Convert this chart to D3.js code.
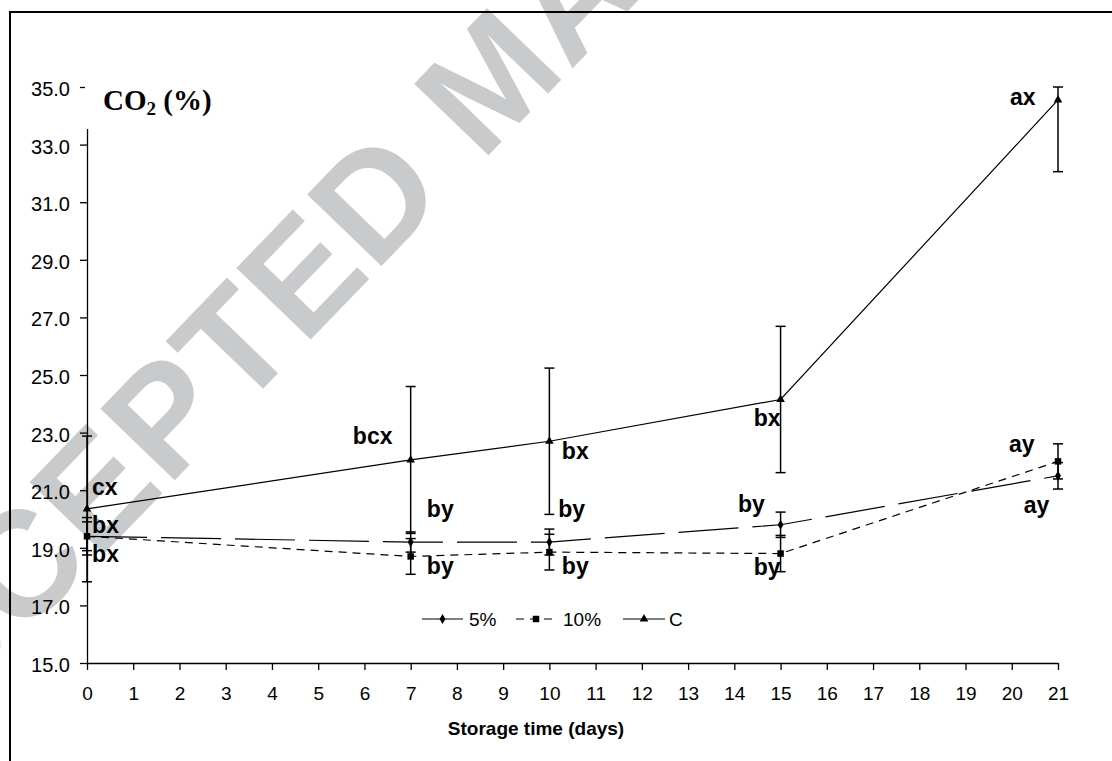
<!DOCTYPE html>
<html>
<head>
<meta charset="utf-8">
<script src="https://cdn.jsdelivr.net/npm/d3@7/dist/d3.min.js"></script>
<style>
  html, body { margin: 0; padding: 0; background: #fff; }
  svg { display: block; }
</style>
</head>
<body>
<svg id="chart" width="1112" height="761"></svg>
<script>
// ---- data ----
const days = [0, 7, 10, 15, 21];
const series5 = [19.4, 19.2, 19.2, 19.8, 21.5];
const series10 = [19.4, 18.7, 18.85, 18.8, 22.0];
const seriesC = [20.35, 22.05, 22.7, 24.15, 34.55];
const err5 = [0.65, 0.35, 0.45, 0.44, 0.46];
const err10 = [0.5, 0.62, 0.62, 0.63, 0.61];
const errC = [2.53, 2.55, 2.54, 2.54, 2.49];
const seriesNames = ["5%", "10%", "C"];
const xTicks = d3.range(0, 22, 1);
const yTicks = [15, 17, 19, 21, 23, 25, 27, 29, 31, 33, 35];
const yTitle = "CO";
const xTitle = "Storage time (days)";
// letters of significance: [text, day, value, anchor]
const letterLabels = [
  ["cx", 0.11, 20.83, "start"],
  ["bx", 0.11, 19.51, "start"],
  ["bx", 0.11, 18.51, "start"],
  ["bcx", 5.75, 22.62, "start"],
  ["by", 7.35, 20.07, "start"],
  ["by", 7.35, 18.09, "start"],
  ["bx", 10.27, 22.08, "start"],
  ["by", 10.19, 20.07, "start"],
  ["by", 10.27, 18.09, "start"],
  ["bx", 15.0, 23.23, "end"],
  ["by", 14.08, 20.24, "start"],
  ["by", 15.0, 18.06, "end"],
  ["ax", 19.96, 34.38, "start"],
  ["ay", 19.94, 22.33, "start"],
  ["ay", 20.26, 20.21, "start"]
];
const watermark = "ACCEPTED MANUSCRIPT";

// ---- layout ----
const svg = d3.select("#chart");
const W = 1112, H = 761;
const x = d3.scaleLinear().domain([0, 21]).range([87, 1058]);
const y = d3.scaleLinear().domain([15, 35]).range([663, 87]);

// watermark
svg.append("text")
  .attr("transform", "translate(-133,799) rotate(-46)")
  .attr("font-family", "Liberation Sans, Arial, sans-serif")
  .attr("font-weight", "bold")
  .attr("font-size", 150)
  .attr("letter-spacing", 2)
  .attr("fill", "#c9cacc")
  .text(watermark);

// frame
svg.append("path")
  .attr("d", `M10,${H} V12 H${W}`)
  .attr("fill", "none").attr("stroke", "#000").attr("stroke-width", 2);

// axes
const yAxis = d3.axisLeft(y).tickValues(yTicks).tickFormat(d3.format(".1f"))
  .tickSize(7).tickSizeOuter(0).tickPadding(10);
const gy = svg.append("g").attr("transform", "translate(87,0)").call(yAxis);
gy.selectAll("text").attr("font-family", "Liberation Sans, Arial, sans-serif")
  .attr("font-size", 20).attr("fill", "#000").attr("dy", "0.42em");
gy.selectAll("line,path").attr("stroke", "#000").attr("stroke-width", 1.3);

const xAxis = d3.axisBottom(x).tickValues(xTicks).tickFormat(d3.format("d"))
  .tickSize(7).tickSizeOuter(0).tickPadding(17);
const gx = svg.append("g").attr("transform", "translate(0,663)").call(xAxis);
gx.selectAll("text").attr("font-family", "Liberation Sans, Arial, sans-serif")
  .attr("font-size", 19).attr("fill", "#000");
gx.selectAll("line,path").attr("stroke", "#000").attr("stroke-width", 1.3);

svg.append("text")
  .attr("x", 536).attr("y", 735)
  .attr("text-anchor", "middle")
  .attr("font-family", "Liberation Sans, Arial, sans-serif")
  .attr("font-weight", "bold").attr("font-size", 19)
  .text(xTitle);

// y title with white background
svg.append("rect").attr("x", 85).attr("y", 62).attr("width", 145).attr("height", 67).attr("fill", "#fff");
const yt = svg.append("text")
  .attr("x", 103).attr("y", 110)
  .attr("font-family", "Liberation Serif, Times New Roman, serif")
  .attr("font-weight", "bold").attr("font-size", 29);
yt.append("tspan").text(yTitle);
yt.append("tspan").attr("font-size", 19).attr("dy", 5).text("2");
yt.append("tspan").attr("dy", -5).text(" (%)");

// series
const seriesData = [
  { name: seriesNames[0], vals: series5, errs: err5, dash: "60,14", marker: "diamond" },
  { name: seriesNames[1], vals: series10, errs: err10, dash: "8,6", marker: "square" },
  { name: seriesNames[2], vals: seriesC, errs: errC, dash: null, marker: "triangle" }
];

const line = d3.line().x(d => x(d[0])).y(d => y(d[1]));
const sym = {
  diamond: d3.symbol().type(d3.symbolDiamond).size(30),
  square: d3.symbol().type(d3.symbolSquare).size(42),
  triangle: d3.symbol().type(d3.symbolTriangle).size(32)
};

// error bars first
seriesData.forEach(s => {
  const g = svg.append("g");
  days.forEach((d, i) => {
    const lo = s.vals[i] - s.errs[i];
    const hi = Math.min(35, s.vals[i] + s.errs[i]);
    const cx = x(d);
    g.append("line").attr("x1", cx).attr("x2", cx).attr("y1", y(lo)).attr("y2", y(hi))
      .attr("stroke", "#000").attr("stroke-width", 1.5);
    [lo, hi].forEach(v => {
      g.append("line").attr("x1", cx - 5).attr("x2", cx + 5).attr("y1", y(v)).attr("y2", y(v))
        .attr("stroke", "#000").attr("stroke-width", 1.5);
    });
  });
});

seriesData.forEach(s => {
  const pts = days.map((d, i) => [d, s.vals[i]]);
  const p = svg.append("path").datum(pts).attr("d", line)
    .attr("fill", "none").attr("stroke", "#000").attr("stroke-width", 1.2);
  if (s.dash) p.attr("stroke-dasharray", s.dash);
  svg.append("g").selectAll("path").data(pts).join("path")
    .attr("transform", d => `translate(${x(d[0])},${y(d[1])})`)
    .attr("d", sym[s.marker]()).attr("fill", "#000");
});

// significance letters
svg.append("g").selectAll("text").data(letterLabels).join("text")
  .attr("x", d => x(d[1])).attr("y", d => y(d[2]))
  .attr("text-anchor", d => d[3])
  .attr("font-family", "Liberation Sans, Arial, sans-serif")
  .attr("font-weight", "bold").attr("font-size", 23)
  .text(d => d[0]);

// legend
const legendItems = [
  { s: seriesData[0], x0: 422, x1: 463, tx: 469 },
  { s: seriesData[1], x0: 516, x1: 556, tx: 563 },
  { s: seriesData[2], x0: 623, x1: 665, tx: 669 }
];
const lg = svg.append("g");
legendItems.forEach(it => {
  const ly = 619;
  const l = lg.append("line").attr("x1", it.x0).attr("x2", it.x1).attr("y1", ly).attr("y2", ly)
    .attr("stroke", "#000").attr("stroke-width", 1.2);
  if (it.s.marker === "square") l.attr("stroke-dasharray", "8,6");
  lg.append("path").attr("transform", `translate(${(it.x0 + it.x1) / 2},${ly})`)
    .attr("d", sym[it.s.marker]()).attr("fill", "#000");
  lg.append("text").attr("x", it.tx).attr("y", 626)
    .attr("font-family", "Liberation Sans, Arial, sans-serif")
    .attr("font-size", 19).text(it.s.name);
});
</script>
</body>
</html>
